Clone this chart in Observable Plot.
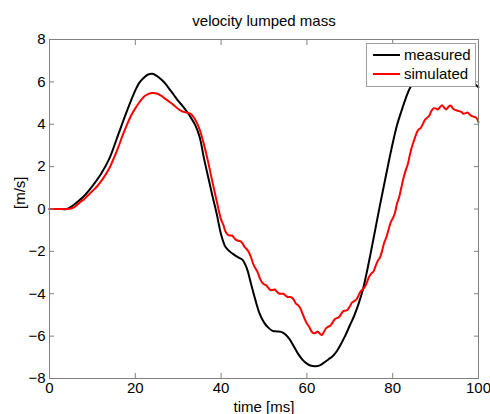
<!DOCTYPE html>
<html>
<head>
<meta charset="utf-8">
<script src="https://cdn.jsdelivr.net/npm/d3@7"></script>
<script src="https://cdn.jsdelivr.net/npm/@observablehq/plot@0.6"></script>
<style>
  html, body { margin: 0; padding: 0; background: #fff; }
  #wrap { position: relative; width: 490px; height: 414px; font-family: "Liberation Sans", Arial, sans-serif; }
  #legend { position: absolute; left: 366px; top: 43px; width: 108px; height: 42px; background: #fff; border: 1px solid #a0a0a0; font-size: 15px; color: #000; }
  .item { position: absolute; left: 0; height: 18px; line-height: 18px; white-space: nowrap; }
  .swatch { position: absolute; left: 6px; top: 8px; width: 27px; height: 0; border-top: 2px solid; }
  .lab { position: absolute; left: 37px; top: 0; }
</style>
</head>
<body>
<div id="wrap"></div>
<script>
const title = "velocity lumped mass";
const xLabel = "time [ms]";
const yLabel = "[m/s]";
const seriesNames = ["measured", "simulated"];
const seriesColors = ["#000000", "#ff0000"];
const xTicks = [0, 20, 40, 60, 80, 100];
const yTicks = [-8, -6, -4, -2, 0, 2, 4, 6, 8];

const measuredT = [0,2,4,5,6,8,10,12,14,16,18,20,21,22,23,24,25,26,27,28,29,30,31,32,33,34,35,36,37,38,39,40,41,42,43,44,45,46,47,48,49,50,51,52,53,54,55,56,57,58,59,60,61,62,63,64,65,66,67,68,69,70,71,72,73,74,75,76,77,78,79,80,81,82,83,84,86,88,90,92,94,96,98,99,100];
const measuredV = [0,0,0,0.1,0.25,0.6,1.08,1.65,2.4,3.5,4.6,5.6,5.98,6.2,6.35,6.38,6.28,6.12,5.92,5.65,5.38,5.1,4.87,4.6,4.3,3.95,3.4,2.4,1.5,0.6,-0.25,-1.2,-1.78,-2.0,-2.15,-2.28,-2.4,-2.8,-3.55,-4.3,-4.95,-5.35,-5.6,-5.75,-5.78,-5.8,-5.92,-6.15,-6.5,-6.85,-7.12,-7.3,-7.4,-7.42,-7.38,-7.25,-7.1,-6.95,-6.7,-6.35,-5.95,-5.5,-5.05,-4.5,-3.85,-2.95,-1.95,-0.9,0.15,1.15,2.15,3.1,3.95,4.6,5.2,5.7,6.3,6.6,6.7,6.65,6.5,6.3,6.1,5.92,5.75];

const simulatedT = [0,2,4,5,6,7,8,9,10,11,12,13,14,15,16,17,18,19,20,21,22,23,24,25,26,27,28,29,30,31,32,33,34,35,36,37,38,39,
  40,40.5,41,41.5,42,42.5,43,43.5,44,44.5,45,45.5,46,46.5,47,47.5,48,48.5,49,49.5,50,50.5,51,51.5,52,52.5,53,53.5,54,54.5,55,55.5,56,56.5,57,57.5,58,58.5,59,59.5,
  60,60.5,61,61.5,62,62.5,63,63.5,64,64.5,65,65.5,66,66.5,67,67.5,68,68.5,69,69.5,70,70.5,71,71.5,72,72.5,73,73.5,74,74.5,75,75.5,76,76.5,77,77.5,78,78.5,79,79.5,
  80,80.5,81,81.5,82,82.5,83,83.5,84,84.5,85,85.5,86,86.5,87,87.5,88,88.5,89,89.5,90,90.5,91,91.5,92,92.5,93,93.5,94,94.5,95,95.5,96,96.5,97,97.5,98,98.5,99,99.5,100];
const simulatedV = [0,0,0,0.02,0.12,0.3,0.45,0.65,0.85,1.05,1.3,1.6,1.95,2.4,2.9,3.45,3.95,4.4,4.75,5.05,5.3,5.42,5.47,5.45,5.35,5.2,5.05,4.9,4.72,4.6,4.55,4.48,4.2,3.75,3.05,2.2,1.25,0.35,
  -0.5,-0.74,-1.05,-1.2,-1.25,-1.25,-1.35,-1.46,-1.5,-1.52,-1.62,-1.8,-1.9,-2.05,-2.3,-2.6,-2.8,-2.98,-3.25,-3.45,-3.55,-3.6,-3.72,-3.83,-3.82,-3.8,-3.9,-3.99,-4.0,-4.0,-4.08,-4.15,-4.15,-4.18,-4.3,-4.48,-4.55,-4.7,-4.95,-5.2,
  -5.4,-5.55,-5.75,-5.86,-5.85,-5.78,-5.88,-5.95,-5.78,-5.62,-5.55,-5.5,-5.35,-5.2,-5.15,-5.1,-4.95,-4.82,-4.8,-4.75,-4.6,-4.42,-4.35,-4.28,-4.1,-3.9,-3.8,-3.68,-3.45,-3.2,-3.05,-2.95,-2.7,-2.45,-2.3,-2.0,-1.6,-1.35,-1.0,-0.65,
  -0.45,-0.2,0.25,0.55,1.0,1.45,1.8,2.1,2.55,2.95,3.25,3.55,3.75,3.82,4.0,4.2,4.3,4.4,4.62,4.75,4.75,4.7,4.8,4.9,4.78,4.7,4.82,4.88,4.75,4.68,4.65,4.62,4.58,4.5,4.52,4.55,4.45,4.38,4.35,4.3,4.1];

const measured = measuredT.map((t, i) => ({t, v: measuredV[i]}));
const simulated = simulatedT.map((t, i) => ({t, v: simulatedV[i]}));

const font = "Liberation Sans, Arial, sans-serif";
const axisColor = "#808080";

const chart = Plot.plot({
  width: 490,
  height: 414,
  marginLeft: 49,
  marginRight: 12,
  marginTop: 39,
  marginBottom: 36,
  style: {fontFamily: font, fontSize: "15px", color: "#000", background: "#fff"},
  x: {domain: [0, 100], label: null},
  y: {domain: [-8, 8], label: null},
  marks: [
    Plot.line(measured, {x: "t", y: "v", stroke: seriesColors[0], strokeWidth: 2, curve: "catmull-rom"}),
    Plot.line(simulated, {x: "t", y: "v", stroke: seriesColors[1], strokeWidth: 2, curve: "catmull-rom"}),
    Plot.frame({stroke: axisColor}),
    Plot.axisX({anchor: "bottom", ticks: xTicks, tickSize: 0, tickPadding: 4, fontSize: 15, label: null, fill: "#000"}),
    Plot.axisX({anchor: "bottom", ticks: xTicks, tickSize: -5, tickFormat: () => "", label: null, stroke: axisColor}),
    Plot.axisX({anchor: "top", ticks: xTicks, tickSize: -5, tickFormat: () => "", label: null, stroke: axisColor}),
    Plot.axisY({anchor: "left", ticks: yTicks, tickSize: 0, tickPadding: 4, fontSize: 15, label: null, fill: "#000"}),
    Plot.axisY({anchor: "left", ticks: yTicks, tickSize: -5, tickFormat: () => "", label: null, stroke: axisColor}),
    Plot.axisY({anchor: "right", ticks: yTicks, tickSize: -5, tickFormat: () => "", label: null, stroke: axisColor}),
    Plot.text([title], {frameAnchor: "top", dy: -18, text: d => d, fontSize: 15, fill: "#000", lineAnchor: "middle"}),
    Plot.text([xLabel], {frameAnchor: "bottom", dy: 29, text: d => d, fontSize: 15, fill: "#000", lineAnchor: "middle"}),
    Plot.text([yLabel], {frameAnchor: "left", dx: -29, rotate: -90, text: d => d, fontSize: 15, fill: "#000", lineAnchor: "middle"})
  ]
});

const wrap = document.getElementById("wrap");
wrap.appendChild(chart);

const legend = document.createElement("div");
legend.id = "legend";
seriesNames.forEach((name, i) => {
  const item = document.createElement("div");
  item.className = "item";
  item.style.top = (2 + i * 19) + "px";
  item.innerHTML = `<span class="swatch" style="border-color:${seriesColors[i]}"></span><span class="lab">${name}</span>`;
  legend.appendChild(item);
});
wrap.appendChild(legend);
</script>
</body>
</html>
